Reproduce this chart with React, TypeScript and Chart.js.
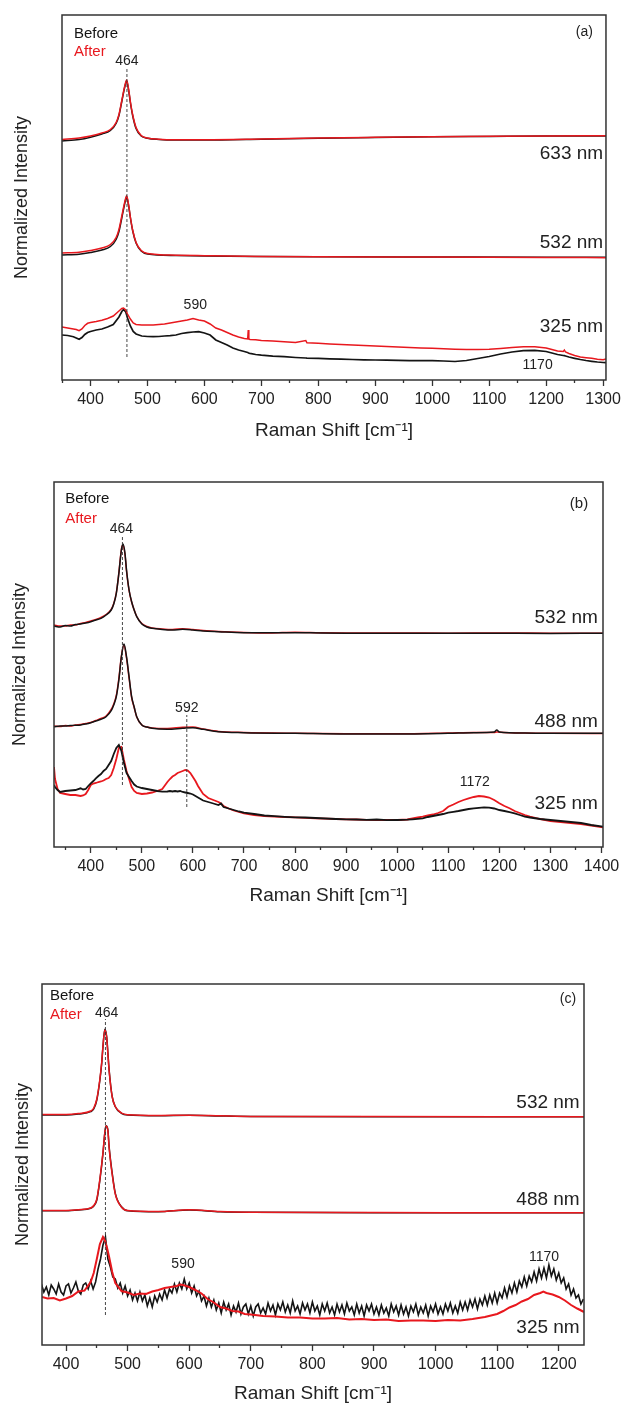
import React, { useEffect, useRef } from 'react';
import { Chart, registerables } from 'chart.js';

Chart.register(...registerables);

const RED = 'rgb(232,24,30)';
const BLACK = '#141414';
const INK = '#222222';
const FONT = "'Liberation Sans', Arial, Helvetica, sans-serif";

// ---------------- Panel (a) ----------------
const A_MAJOR = [400, 500, 600, 700, 800, 900, 1000, 1100, 1200, 1300];
const A_MINOR = [350, 450, 550, 650, 750, 850, 950, 1050, 1150, 1250];

const A_633_X = [350, 380, 400, 420, 435, 445, 450, 455, 460, 463.5, 467, 470, 474, 480, 489, 500, 520, 550, 600, 700, 800, 900, 1000, 1100, 1200, 1305];
const A_633_AFTER = [240.5, 242, 244, 247, 250.5, 257.5, 265.5, 279.5, 293.5, 300, 290.5, 278.5, 265.5, 252.5, 244.5, 242, 240.8, 240.3, 240.3, 241, 242, 242.7, 243.3, 243.7, 244, 244.2];
const A_633_BEFORE = [239, 240.5, 242.8, 246, 249.5, 256.5, 264.5, 278.5, 292.5, 299, 289.5, 277.5, 264.5, 251.5, 244, 241.7, 240.5, 240, 240, 240.8, 241.8, 242.5, 243.2, 243.6, 244, 244];

const A_532_X = [350, 380, 400, 420, 435, 445, 450, 455, 460, 463.5, 467, 470, 474, 480, 489, 500, 550, 600, 700, 800, 1000, 1200, 1305];
const A_532_BEFORE = [125, 125.8, 127.5, 130, 133.5, 140.5, 148.5, 162, 176, 183, 174, 162.5, 149.5, 137, 129, 126, 124.5, 124, 123.5, 123.2, 123, 122.8, 122.7];
const A_532_AFTER = [127, 127.8, 129.5, 132, 135.5, 142.5, 150.5, 164, 177.5, 184.3, 175, 163, 150, 137.5, 129.5, 126.5, 124.8, 124.3, 123.5, 123.2, 123, 122.6, 122.3];

const A_325_X = [350, 360, 370, 375, 380, 385, 390, 395, 400, 410, 420, 430, 440, 450, 455, 458, 462, 465, 470, 475, 480, 490, 500, 510, 520, 530, 540, 550, 560, 570, 580, 590, 600, 610, 620, 630, 640, 650, 660, 670, 676, 677, 678, 680, 690, 700, 720, 740, 760, 778, 780, 800, 820, 840, 860, 880, 900, 920, 940, 960, 980, 1000, 1020, 1040, 1060, 1080, 1100, 1120, 1140, 1160, 1180, 1200, 1210, 1220, 1230, 1232, 1234, 1240, 1250, 1260, 1270, 1280, 1290, 1300, 1305];
const A_325_AFTER = [53, 52, 51, 50.5, 49.3, 51, 54.5, 56.7, 57.5, 58.5, 59.8, 61.5, 64, 69, 71.5, 72, 70, 66, 61, 57, 55.5, 55, 55, 55, 55.5, 56, 57, 58, 59, 60, 61.5, 60, 59, 56, 52, 50, 47.5, 45, 43, 41.5, 41, 50, 41, 40.5, 40.2, 39.5, 39, 38.3, 37.5, 39.5, 37.2, 36.7, 36, 35.5, 35, 34.5, 34, 33.5, 33, 32.5, 32, 31.7, 31.2, 30.8, 30.6, 30.6, 30.7, 31.5, 32.5, 33.3, 33.3, 32, 30.5, 29, 28.5, 30, 28, 26.5, 24.5, 23, 22.3, 21.7, 20.8, 20.3, 21];
const A_325_BEFORE = [45, 44.5, 43.3, 42, 40.7, 42.5, 45.5, 47.5, 48.5, 50, 51, 53, 55.5, 63, 68.5, 70.5, 68, 62, 54, 48.5, 46, 44, 43.5, 43.3, 43.5, 44, 44.3, 45, 46.5, 47.3, 48, 48.3, 47, 45, 40, 37.5, 35, 32, 30, 28.5, 27.5, 27.2, 27, 26.7, 25.5, 24.8, 23.8, 23.3, 22.5, 22, 21.9, 21.7, 21.2, 20.8, 20.5, 20.2, 20, 19.8, 19.6, 19.4, 19.3, 19.3, 19, 18.5, 19.5, 21.5, 23.5, 26, 28, 29.3, 29.6, 28.5, 27, 25.5, 24.5, 24.3, 24, 23, 21.7, 20.5, 19.5, 18.7, 18, 17.5, 17.3];

// ---------------- Panel (b) ----------------
const B_MAJOR = [400, 500, 600, 700, 800, 900, 1000, 1100, 1200, 1300, 1400];
const B_MINOR = [350, 450, 550, 650, 750, 850, 950, 1050, 1150, 1250, 1350];

const B_532_X = [328, 340, 350, 360, 370, 380, 390, 400, 410, 420, 430, 440, 445, 450, 455, 460, 463, 467, 470, 475, 480, 485, 490, 500, 510, 520, 540, 560, 580, 600, 620, 650, 700, 750, 800, 850, 900, 1000, 1100, 1200, 1300, 1403];
const B_532_BEFORE = [221, 220, 221.5, 221, 222.5, 223, 224, 225.3, 227, 228.7, 232, 237, 243, 253.7, 273.7, 297, 303, 293.7, 277, 257, 245.3, 237, 230.3, 223, 220, 218.7, 217.5, 217, 217.7, 217, 216, 215.3, 214.3, 214.2, 214.3, 214, 213.8, 213.7, 213.8, 213.7, 213.6, 213.7];
const B_532_AFTER = [222, 221, 221, 222, 222, 223.5, 224.5, 226, 227.5, 229.5, 232.5, 237.5, 243.5, 254, 274, 298, 302, 292.5, 276, 256.5, 245, 237, 230.5, 223.5, 220.5, 219, 218, 217.5, 218.3, 217.5, 216.5, 215.5, 214.5, 214, 214.8, 214.2, 214, 214, 213.8, 214, 213.8, 213.7];

const B_488_X = [328, 340, 350, 360, 370, 380, 390, 400, 410, 420, 430, 440, 445, 450, 455, 460, 465, 470, 475, 480, 485, 490, 500, 510, 520, 550, 580, 600, 620, 650, 700, 800, 900, 1000, 1100, 1150, 1190, 1195, 1200, 1250, 1300, 1403];
const B_488_BEFORE = [120.3, 121, 121, 121.5, 121.7, 122, 123, 124.3, 126, 127.7, 130.3, 136.3, 142, 150.3, 167, 190.3, 203, 190.3, 170.3, 150.3, 140, 130.3, 122, 120, 118.7, 117.7, 118.7, 119.3, 117.7, 115.3, 114.3, 113.7, 113, 113, 113.7, 114.3, 115, 117, 115, 114, 113.7, 113.7];
const B_488_AFTER = [121, 120.5, 121.5, 121, 122, 122.5, 123.5, 124.5, 126.5, 128.5, 131, 137.5, 143, 151.5, 168.5, 191, 202, 189, 169, 149.5, 139.5, 130, 122, 120, 119, 118.5, 119.8, 120, 118, 115.5, 114.5, 113.7, 113.3, 113.2, 114, 114.6, 114.5, 115, 114.8, 114, 113.8, 113.5];

const B_325_X = [328, 330, 335, 340, 350, 360, 370, 380, 385, 390, 395, 400, 405, 410, 415, 420, 425, 430, 435, 440, 445, 450, 455, 460, 465, 470, 475, 480, 485, 490, 500, 510, 520, 530, 540, 550, 555, 560, 565, 570, 575, 580, 585, 590, 595, 600, 605, 610, 615, 620, 630, 640, 650, 655, 660, 670, 680, 690, 700, 720, 740, 760, 780, 800, 820, 840, 860, 880, 900, 920, 940, 960, 980, 1000, 1020, 1030, 1040, 1050, 1060, 1070, 1080, 1090, 1100, 1110, 1120, 1130, 1140, 1150, 1160, 1170, 1180, 1190, 1200, 1210, 1220, 1230, 1240, 1250, 1260, 1280, 1300, 1320, 1340, 1360, 1380, 1403];
const B_325_BEFORE = [62, 60, 57, 55, 56, 56.5, 57, 58.7, 57.5, 58, 61, 63.7, 66, 68.7, 71, 73, 76, 78, 82, 86, 93, 99, 102, 96, 84, 74, 70, 66, 62.5, 60.5, 59, 58, 57, 56, 55.3, 55.5, 56, 55.5, 56, 55.5, 56, 55, 54.5, 54, 53.5, 52.5, 51, 49.5, 48, 46.5, 45, 43.5, 42, 43.5, 40, 38.5, 37, 35.5, 34.3, 33, 31.5, 30.8, 30.2, 29.7, 29.5, 29, 28.5, 28, 27.7, 27.5, 27.2, 27.5, 26.8, 27, 27.3, 27.7, 28.2, 28.7, 30, 31, 32, 33, 34.3, 35.2, 36, 37, 38, 38.7, 39.2, 39.7, 39.3, 38.5, 37, 36, 34.8, 33.7, 32, 30.3, 29.5, 28, 27, 26, 25, 24, 22, 20.3];
const B_325_AFTER = [80, 68, 58, 54, 53, 52, 52, 51, 51.5, 53, 57, 62, 63.5, 64, 65, 65.5, 66.5, 68, 69, 72, 79, 88, 99, 100, 87, 76, 68, 60, 56, 54, 53, 53.5, 54.5, 56, 58, 65, 68, 70.5, 72, 74, 75, 76, 77, 76.5, 74, 70, 66, 61, 57, 53, 49, 47, 45, 43.5, 41, 38.5, 36.5, 35, 33.7, 32, 30.8, 30.3, 30, 29.7, 29.2, 28.7, 28.3, 28, 27.7, 27.5, 27.2, 27, 27, 27, 27.5, 28.7, 29.5, 30.3, 31.5, 32.5, 34, 36, 40.3, 42.5, 45, 47, 48.7, 50, 51, 50.5, 49.5, 47, 43.7, 41, 38.7, 36, 34, 32, 30.5, 28, 26, 25, 24, 23, 21.5, 19.7];

// ---------------- Panel (c) ----------------
const C_MAJOR = [400, 500, 600, 700, 800, 900, 1000, 1100, 1200];
const C_MINOR = [450, 550, 650, 750, 850, 950, 1050, 1150];

const C_532_X = [361, 380, 400, 420, 440, 445, 450, 455, 458, 460, 463, 466, 468, 470, 475, 480, 490, 500, 550, 600, 650, 700, 900, 1100, 1241];
const C_532_BEFORE = [230, 230, 230, 231, 233.3, 236, 245, 265, 282, 298.3, 315.7, 308.3, 292, 275, 248.3, 238.3, 231.7, 230, 229.3, 229.7, 229, 228.5, 228.3, 228.3, 228.3];
const C_532_AFTER = [230.5, 230.5, 230.5, 231.5, 234, 237, 246, 266, 283, 299, 315, 307.5, 291, 274, 248, 238.5, 232, 230.3, 229.5, 229.8, 229.2, 228.6, 228.4, 228.3, 228.2];

const C_488_X = [361, 380, 400, 420, 440, 445, 450, 455, 460, 463, 465, 468, 470, 475, 480, 490, 500, 550, 600, 650, 700, 900, 1100, 1241];
const C_488_BEFORE = [134.3, 134.3, 134.3, 135, 136.7, 139, 145, 165, 191.7, 212, 219.3, 215, 198.3, 171.7, 151.7, 138.3, 134.3, 133.3, 135, 133.3, 132.7, 132.3, 132.3, 132.3];
const C_488_AFTER = [134.5, 134.5, 134.6, 135.3, 137, 139.5, 146, 166, 192.5, 212.5, 219, 214, 197, 170.5, 151, 138, 134.5, 133.5, 135.2, 133.5, 132.8, 132.4, 132.3, 132.2];

// 325 nm "before" of panel (c), read every 4 cm-1 starting at 360
const C_325_BEFORE_START = 360;
const C_325_BEFORE_STEP = 4;
const C_325_BEFORE = [
  61, 53, 58, 50, 60, 56, 51, 61, 53, 50, 59, 61, 52, 57, 63, 54, 51, 60, 62, 56,
  64, 56, 63, 76, 86, 100, 108, 86, 78, 68, 66, 57, 62, 52, 59, 49, 55, 45, 52, 44,
  53, 44, 50, 39, 47, 38, 49, 43, 51, 45, 55, 47, 56, 52, 61, 53, 62, 56, 66, 56,
  62, 52, 59, 49, 54, 44, 49, 39, 47, 38, 45, 35, 42, 32, 43, 35, 41, 30, 39, 33,
  42, 31, 38, 41, 31, 39, 29, 38, 41, 32, 37, 31, 42, 34, 40, 30, 41, 35, 43, 33,
  40, 32, 44, 34, 39, 31, 42, 35, 41, 32, 43, 34, 39, 30, 41, 34, 42, 32, 38, 30,
  41, 33, 40, 31, 42, 34, 38, 30, 41, 32, 39, 29, 40, 34, 41, 31, 38, 30, 40, 32,
  37, 29, 41, 33, 39, 30, 40, 31, 38, 29, 39, 33, 41, 30, 38, 32, 40, 29, 39, 33,
  41, 31, 38, 31, 41, 34, 42, 32, 39, 32, 43, 35, 43, 35, 45, 38, 46, 36, 46, 40,
  49, 40, 50, 42, 52, 42, 52, 47, 57, 48, 59, 52, 62, 53, 64, 58, 68, 59, 69, 63,
  73, 64, 76, 67, 77, 67, 80, 69, 76, 65, 72, 62, 67, 56, 61, 50, 56, 47, 50, 41,
  46,
];

const C_325_AFTER_X = [361, 370, 380, 390, 400, 410, 420, 430, 440, 445, 450, 455, 460, 463, 467, 470, 475, 480, 490, 500, 510, 520, 530, 540, 550, 560, 570, 580, 585, 590, 595, 600, 610, 620, 630, 640, 650, 660, 670, 680, 690, 700, 720, 740, 760, 780, 800, 820, 840, 860, 880, 900, 920, 940, 960, 980, 1000, 1020, 1040, 1060, 1080, 1090, 1100, 1110, 1120, 1130, 1140, 1150, 1160, 1170, 1175, 1180, 1190, 1200, 1210, 1220, 1230, 1241];
const C_325_AFTER = [48, 46.5, 47, 44.5, 46.5, 49, 53.5, 54.5, 63, 72, 86, 101, 108, 105, 96, 88, 73, 62, 54, 52.5, 50, 51.5, 51, 53.5, 55, 57, 58, 59, 60.5, 60, 59, 58, 55, 51.5, 46, 42.5, 38, 36.5, 34, 33.5, 31, 30.5, 29, 28.5, 27.5, 27.5, 26.5, 26.5, 27, 25.5, 26, 25, 25.5, 24, 24.5, 24.5, 24, 25, 24.5, 26, 28, 29.5, 31, 34, 37.5, 40, 43.5, 46, 50, 52, 53.5, 52, 50.5, 48, 44.5, 40, 36.5, 33];

// ---------------- helpers ----------------
type Pt = { x: number; y: number };
const pts = (xs: number[], ys: number[]): Pt[] => ys.map((y, i) => ({ x: xs[i], y }));
const sampleGrid = (start: number, step: number, ys: number[]): number[] => ys.map((_, i) => start + step * i);

type Trace = { data: Pt[]; color: string; smooth: boolean; order: number; width?: number };
type Guide = { x: number; y0: number; y1: number };
type Note = { x: number; y: number; text: string; size: number; align: CanvasTextAlign; color?: string };
type Panel = {
  top: number; height: number;
  pad: { top: number; left: number; right: number; bottom: number };
  yWidth: number; yTitlePad: number; xHeight: number;
  xMin: number; xMax: number; yMax: number;
  major: number[]; minor: number[];
  traces: Trace[]; guides: Guide[]; notes: Note[];
};

const PANELS: Panel[] = [
  {
    top: 0, height: 450,
    pad: { top: 15, left: 0, right: 15, bottom: 8 },
    yWidth: 62, yTitlePad: 11, xHeight: 62,
    xMin: 350, xMax: 1305, yMax: 365,
    major: A_MAJOR, minor: A_MINOR,
    traces: [
      { data: pts(A_633_X, A_633_AFTER), color: RED, smooth: true, order: 1 },
      { data: pts(A_532_X, A_532_AFTER), color: RED, smooth: true, order: 1 },
      { data: pts(A_325_X, A_325_AFTER), color: RED, smooth: false, order: 1 },
      { data: pts(A_633_X, A_633_BEFORE), color: BLACK, smooth: true, order: 2 },
      { data: pts(A_532_X, A_532_BEFORE), color: BLACK, smooth: true, order: 2 },
      { data: pts(A_325_X, A_325_BEFORE), color: BLACK, smooth: false, order: 2, width: 1.7 },
    ],
    guides: [{ x: 464, y0: 23, y1: 312 }],
    notes: [
      { x: 371, y: 346, text: 'Before', size: 15, align: 'left', color: BLACK },
      { x: 371, y: 328, text: 'After', size: 15, align: 'left', color: RED },
      { x: 464, y: 319, text: '464', size: 14, align: 'center' },
      { x: 1267, y: 348, text: '(a)', size: 14, align: 'center' },
      { x: 1300, y: 226, text: '633 nm', size: 19, align: 'right' },
      { x: 1300, y: 137, text: '532 nm', size: 19, align: 'right' },
      { x: 1300, y: 53, text: '325 nm', size: 19, align: 'right' },
      { x: 584, y: 75, text: '590', size: 14, align: 'center' },
      { x: 1185, y: 15, text: '1170', size: 14, align: 'center' },
    ],
  },
  {
    top: 470, height: 440,
    pad: { top: 12, left: 0, right: 22, bottom: 3 },
    yWidth: 54, yTitlePad: 9, xHeight: 60,
    xMin: 328, xMax: 1403, yMax: 365,
    major: B_MAJOR, minor: B_MINOR,
    traces: [
      { data: pts(B_532_X, B_532_BEFORE), color: BLACK, smooth: true, order: 1 },
      { data: pts(B_488_X, B_488_BEFORE), color: BLACK, smooth: true, order: 1 },
      { data: pts(B_325_X, B_325_BEFORE), color: BLACK, smooth: false, order: 1, width: 1.8 },
      { data: pts(B_532_X, B_532_AFTER), color: RED, smooth: true, order: 2 },
      { data: pts(B_488_X, B_488_AFTER), color: RED, smooth: true, order: 2 },
      { data: pts(B_325_X, B_325_AFTER), color: RED, smooth: false, order: 2, width: 1.8 },
    ],
    guides: [
      { x: 462, y0: 62, y1: 312 },
      { x: 588, y0: 40, y1: 132 },
    ],
    notes: [
      { x: 350, y: 348, text: 'Before', size: 15, align: 'left', color: BLACK },
      { x: 350, y: 328, text: 'After', size: 15, align: 'left', color: RED },
      { x: 460, y: 318, text: '464', size: 14, align: 'center' },
      { x: 1356, y: 343, text: '(b)', size: 15, align: 'center' },
      { x: 1393, y: 229, text: '532 nm', size: 19, align: 'right' },
      { x: 1393, y: 125, text: '488 nm', size: 19, align: 'right' },
      { x: 1393, y: 43, text: '325 nm', size: 19, align: 'right' },
      { x: 588, y: 139, text: '592', size: 14, align: 'center' },
      { x: 1152, y: 65, text: '1172', size: 14, align: 'center' },
    ],
  },
  {
    top: 960, height: 445,
    pad: { top: 24, left: 0, right: 41, bottom: 0 },
    yWidth: 42, yTitlePad: 12, xHeight: 60,
    xMin: 361, xMax: 1241, yMax: 361,
    major: C_MAJOR, minor: C_MINOR,
    traces: [
      { data: pts(C_532_X, C_532_AFTER), color: RED, smooth: true, order: 1 },
      { data: pts(C_488_X, C_488_AFTER), color: RED, smooth: true, order: 1 },
      { data: pts(C_325_AFTER_X, C_325_AFTER), color: RED, smooth: false, order: 1, width: 2 },
      { data: pts(C_532_X, C_532_BEFORE), color: BLACK, smooth: true, order: 2 },
      { data: pts(C_488_X, C_488_BEFORE), color: BLACK, smooth: true, order: 2 },
      { data: pts(sampleGrid(C_325_BEFORE_START, C_325_BEFORE_STEP, C_325_BEFORE), C_325_BEFORE), color: BLACK, smooth: false, order: 2, width: 1.6 },
    ],
    guides: [{ x: 464, y0: 30, y1: 326 }],
    notes: [
      { x: 374, y: 349, text: 'Before', size: 15, align: 'left', color: BLACK },
      { x: 374, y: 330, text: 'After', size: 15, align: 'left', color: RED },
      { x: 466, y: 332, text: '464', size: 14, align: 'center' },
      { x: 1215, y: 346, text: '(c)', size: 14, align: 'center' },
      { x: 1234, y: 242, text: '532 nm', size: 19, align: 'right' },
      { x: 1234, y: 145, text: '488 nm', size: 19, align: 'right' },
      { x: 1234, y: 17, text: '325 nm', size: 19, align: 'right' },
      { x: 590, y: 81, text: '590', size: 14, align: 'center' },
      { x: 1176, y: 88, text: '1170', size: 14, align: 'center' },
    ],
  },
];

const framePlugin = {
  id: 'frame',
  afterDatasetsDraw(chart: any) {
    const { ctx, chartArea } = chart;
    const { left, top, right, bottom } = chartArea;
    ctx.save();
    ctx.strokeStyle = '#333333';
    ctx.lineWidth = 1.5;
    ctx.strokeRect(left, top, right - left, bottom - top);
    ctx.restore();
  },
};

const makeNotesPlugin = (notes: Note[]) => ({
  id: 'notes',
  afterDatasetsDraw(chart: any) {
    const { ctx } = chart;
    const xs = chart.scales.x;
    const ys = chart.scales.y;
    ctx.save();
    ctx.textBaseline = 'middle';
    for (const n of notes) {
      ctx.font = `${n.size}px ${FONT}`;
      ctx.fillStyle = n.color || INK;
      ctx.textAlign = n.align;
      ctx.fillText(n.text, xs.getPixelForValue(n.x), ys.getPixelForValue(n.y));
    }
    ctx.restore();
  },
});

function PanelChart({ panel }: { panel: Panel }) {
  const ref = useRef<HTMLCanvasElement | null>(null);
  useEffect(() => {
    if (!ref.current) return;
    const datasets: any[] = [];
    panel.guides.forEach((g) => {
      datasets.push({
        data: [{ x: g.x, y: g.y0 }, { x: g.x, y: g.y1 }],
        borderColor: '#333333', borderWidth: 0.9, borderDash: [3, 2],
        pointRadius: 0, fill: false, order: 0,
      });
    });
    panel.traces.forEach((t) => {
      datasets.push({
        data: t.data,
        borderColor: t.color,
        borderWidth: t.width ?? 1.5,
        pointRadius: 0,
        fill: false,
        tension: t.smooth ? 0.4 : 0,
        cubicInterpolationMode: t.smooth ? 'monotone' : 'default',
        order: t.order,
      });
    });
    const major = panel.major;
    const allTicks = [...panel.major, ...panel.minor].sort((a, b) => a - b);
    const chart = new Chart(ref.current, {
      type: 'line',
      data: { datasets },
      options: {
        animation: false,
        responsive: false,
        maintainAspectRatio: false,
        events: [],
        parsing: false,
        normalized: true,
        layout: { padding: panel.pad },
        plugins: { legend: { display: false }, tooltip: { enabled: false }, title: { display: false } },
        scales: {
          x: {
            type: 'linear',
            min: panel.xMin,
            max: panel.xMax,
            afterBuildTicks: (scale: any) => {
              scale.ticks = allTicks.map((v) => ({ value: v }));
            },
            afterFit: (scale: any) => {
              scale.height = panel.xHeight;
            },
            ticks: {
              autoSkip: false,
              maxRotation: 0,
              minRotation: 0,
              padding: 4,
              color: INK,
              font: { family: FONT, size: 16 },
              callback: (v: any) => (major.includes(Number(v)) ? String(v) : ''),
            },
            grid: {
              display: true,
              drawOnChartArea: false,
              drawTicks: true,
              tickLength: 6,
              tickColor: '#333333',
              tickWidth: 1.3,
              tickBorderDash: (ctx: any) => (ctx.tick && major.includes(ctx.tick.value) ? [] : [3, 40]),
            },
            border: { display: false },
            title: {
              display: true,
              text: 'Raman Shift [cm\u207B\u00B9]',
              color: INK,
              font: { family: FONT, size: 19 },
              padding: { top: 0, bottom: 0 },
            },
          },
          y: {
            type: 'linear',
            min: 0,
            max: panel.yMax,
            afterFit: (scale: any) => {
              scale.width = panel.yWidth;
            },
            ticks: { display: false },
            grid: { display: false },
            border: { display: false },
            title: {
              display: true,
              text: 'Normalized Intensity',
              color: INK,
              font: { family: FONT, size: 18 },
              padding: { top: panel.yTitlePad, bottom: 0 },
            },
          },
        },
      },
      plugins: [framePlugin, makeNotesPlugin(panel.notes)],
    } as any);
    return () => chart.destroy();
  }, [panel]);
  return (
    <canvas
      ref={ref}
      width={625}
      height={panel.height}
      style={{ position: 'absolute', left: 0, top: panel.top, width: 625, height: panel.height }}
    />
  );
}

export default function App() {
  return (
    <div style={{ position: 'absolute', left: 0, top: 0, width: 625, height: 1405, background: '#ffffff' }}>
      {PANELS.map((p, i) => (
        <PanelChart key={i} panel={p} />
      ))}
    </div>
  );
}
